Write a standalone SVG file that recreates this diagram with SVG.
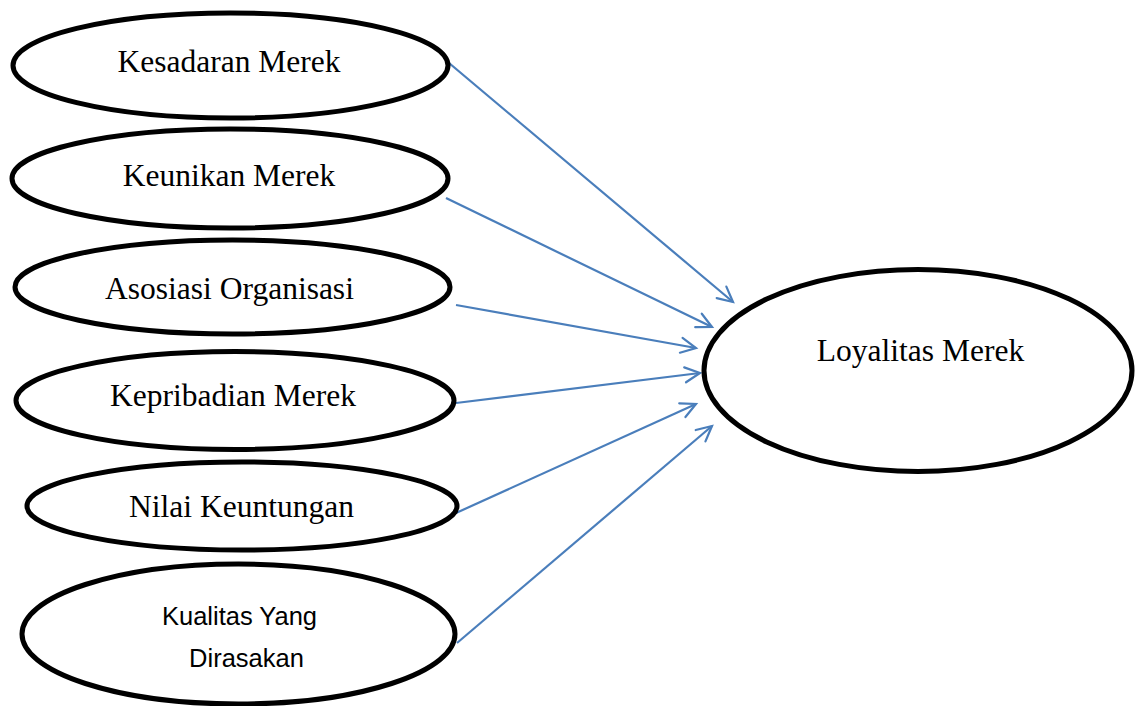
<svg xmlns="http://www.w3.org/2000/svg" width="1135" height="706" viewBox="0 0 1135 706">
<style>
.node{fill:#fff;stroke:#000;stroke-width:5}
.t{font-family:"Liberation Serif","Times New Roman",serif;font-size:31.5px;fill:#000;text-anchor:middle}
.s{font-family:"Liberation Sans",Arial,sans-serif;font-size:25.5px;fill:#000;text-anchor:middle}
.c{stroke:#4A7EBB;stroke-width:2.2;fill:none;marker-end:url(#ah)}
</style>
<defs>
<marker id="ah" markerUnits="userSpaceOnUse" viewBox="-17 -9 19 18" refX="0" refY="0" markerWidth="19" markerHeight="18" orient="auto" overflow="visible">
<path d="M-15,-7.5 L0,0 L-15,7.5" fill="none" stroke="#4A7EBB" stroke-width="2.2" stroke-linecap="round" stroke-linejoin="miter"/>
</marker>
</defs>
<rect width="1135" height="706" fill="#fff"/>
<g id="connectors">
<line class="c" x1="449" y1="63" x2="733" y2="302"/>
<line class="c" x1="446" y1="198" x2="712" y2="327"/>
<line class="c" x1="456" y1="305" x2="696" y2="348"/>
<line class="c" x1="456" y1="403" x2="700" y2="373"/>
<line class="c" x1="456" y1="513" x2="696" y2="404"/>
<line class="c" x1="457" y1="643" x2="712" y2="426"/>
</g>
<g id="n1"><ellipse class="node" cx="230.5" cy="65.5" rx="217.5" ry="52.5"/><text class="t" x="229" y="72">Kesadaran Merek</text></g>
<g id="n2"><ellipse class="node" cx="230" cy="178.5" rx="218" ry="49.5"/><text class="t" x="229" y="186">Keunikan Merek</text></g>
<g id="n3"><ellipse class="node" cx="232.5" cy="287" rx="217.5" ry="47"/><text class="t" x="229.5" y="299">Asosiasi Organisasi</text></g>
<g id="n4"><ellipse class="node" cx="235" cy="400.5" rx="219" ry="49"/><text class="t" x="233" y="406">Kepribadian Merek</text></g>
<g id="n5"><ellipse class="node" cx="242" cy="506" rx="215" ry="44"/><text class="t" x="241.5" y="517">Nilai Keuntungan</text></g>
<g id="n6"><ellipse class="node" cx="238.5" cy="634" rx="216.5" ry="70"/><text class="s" x="239.5" y="625">Kualitas Yang</text><text class="s" x="246.5" y="667">Dirasakan</text></g>
<g id="n7"><ellipse class="node" cx="918" cy="370.5" rx="214" ry="101"/><text class="t" x="920.5" y="361">Loyalitas Merek</text></g>
</svg>
